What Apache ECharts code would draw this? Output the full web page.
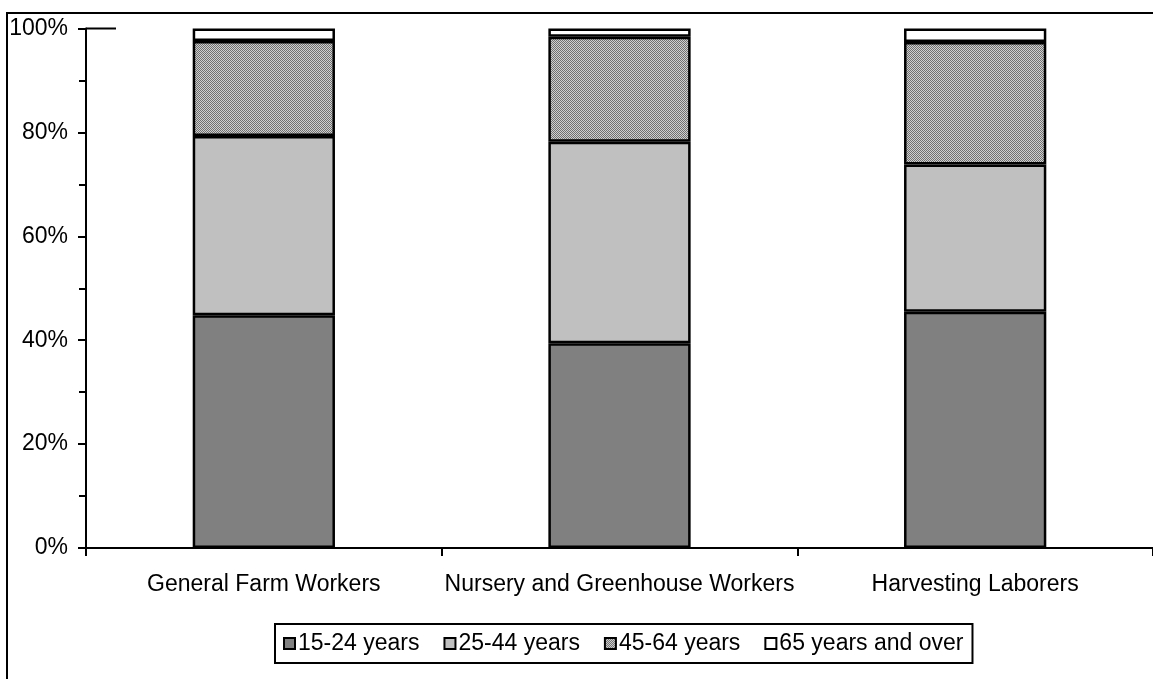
<!DOCTYPE html>
<html><head><meta charset="utf-8">
<script src="https://cdn.jsdelivr.net/npm/echarts@6/dist/echarts.min.js"></script>
<style>html,body{margin:0;padding:0;background:#fff;}#c{width:1153px;height:679px;}</style>
</head><body><div id="c"></div>
<script>
var categories = ['General Farm Workers', 'Nursery and Greenhouse Workers', 'Harvesting Laborers'];
var seriesNames = ['15-24 years', '25-44 years', '45-64 years', '65 years and over'];
var age15to24 = [44.8, 39.4, 45.5];
var age25to44 = [34.5, 38.8, 28.3];
var age45to64 = [18.3, 20.2, 23.6];
var age65plus = [2.4, 1.6, 2.6];
var yTicks = [0, 20, 40, 60, 80, 100];

var pc = document.createElement('canvas');
pc.width = 2; pc.height = 2;
var g = pc.getContext('2d');
g.fillStyle = '#d0d0d0'; g.fillRect(0,0,2,2);
g.fillStyle = '#707070'; g.fillRect(0,0,1,1); g.fillRect(1,1,1,1);

var font = "'Liberation Sans', Arial, sans-serif";
var fills = ['#808080', '#c0c0c0', {image: pc, repeat: 'repeat'}, '#ffffff'];
var dataSets = [age15to24, age25to44, age45to64, age65plus];

var chart = echarts.init(document.getElementById('c'));
chart.setOption({
  animation: false,
  backgroundColor: '#fff',
  textStyle: {fontFamily: font, color: '#000'},
  grid: {left: 86, right: -6, top: 28.5, bottom: 131, containLabel: false},
  graphic: [
    {type: 'rect', shape: {x: 7, y: 13, width: 1300, height: 800}, style: {fill: 'none', stroke: '#000', lineWidth: 2}, silent: true},
    {type: 'line', shape: {x1: 86, y1: 28.5, x2: 116, y2: 28.5}, style: {stroke: '#000', lineWidth: 2}, silent: true}
  ],
  legend: {
    data: seriesNames,
    left: 275, top: 624,
    width: 800,
    itemWidth: 11, itemHeight: 11, itemGap: 24,
    icon: 'rect',
    borderColor: '#000', borderWidth: 2, padding: [8, 9, 8, 8],
    textStyle: {fontFamily: font, fontSize: 23, color: '#000', padding: [0,0,0,-2]}
  },
  xAxis: {
    type: 'category', data: categories, boundaryGap: true,
    axisLine: {lineStyle: {color: '#000', width: 2}},
    axisTick: {show: true, alignWithLabel: false, length: 8, lineStyle: {color: '#000', width: 2}},
    axisLabel: {fontFamily: font, fontSize: 23, color: '#000', margin: 25, interval: 0}
  },
  yAxis: {
    type: 'value', min: 0, max: 100, interval: 20,
    axisLine: {show: true, lineStyle: {color: '#000', width: 2}},
    axisTick: {show: true, length: 8, lineStyle: {color: '#000', width: 2}},
    minorTick: {show: true, splitNumber: 2, length: 7, lineStyle: {color: '#000', width: 2}},
    splitLine: {show: false},
    axisLabel: {fontFamily: font, fontSize: 23, color: '#000', margin: 18,
      formatter: function(v){ return yTicks.indexOf(v) >= 0 ? v + '%' : ''; }}
  },
  series: seriesNames.map(function(n, i){
    return {
      name: n, type: 'bar', stack: 'total', barWidth: '40%',
      data: dataSets[i],
      itemStyle: {color: fills[i], borderColor: '#000', borderWidth: 2.5},
      emphasis: {disabled: true}
    };
  })
});
</script></body></html>
